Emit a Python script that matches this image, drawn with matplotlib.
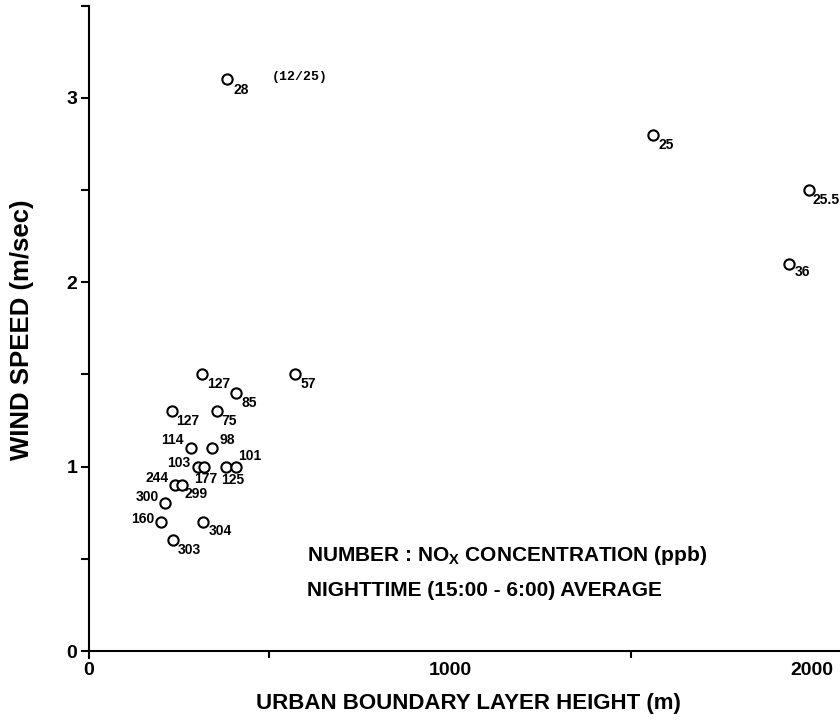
import matplotlib
matplotlib.use("Agg")
import matplotlib.pyplot as plt
from matplotlib.ticker import MultipleLocator, FixedLocator

# ---- data ----
heights = [382, 1561, 1990, 1937, 571, 313, 408, 232, 354, 282, 341,
           303, 319, 380, 408, 239, 258, 210, 200, 317, 234]
speeds = [3.1, 2.8, 2.5, 2.1, 1.5, 1.5, 1.4, 1.3, 1.3, 1.1, 1.1,
          1.0, 1.0, 1.0, 1.0, 0.9, 0.9, 0.8, 0.7, 0.7, 0.6]
nox = ["28", "25", "25.5", "36", "57", "127", "85", "127", "75", "114", "98",
       "103", "177", "125", "101", "244", "299", "300", "160", "304", "303"]
xticks = [0, 1000, 2000]
yticks = [0, 1, 2, 3]

# ---- label placement (pixels: dx, dy(up), ha) ----
place = [(6.6, -10.6, "left"), (5, -10, "left"), (4.4, -9.7, "left"),
         (5.7, -8.4, "left"), (5, -9.3, "left"), (5, -10, "left"),
         (5.7, -10.6, "left"), (3.4, -9.3, "left"), (5, -10, "left"),
         (-7.4, 7.7, "right"), (7.3, 8.4, "left"), (-7.6, 4, "right"),
         (2, -12.6, "center"), (7, -13, "center"), (2.3, 10.7, "left"),
         (-6.7, 6.7, "right"), (2.6, -9.3, "left"), (-6, 6, "right"),
         (-7, 2.7, "right"), (5, -9, "left"), (5, -10, "left")]

plt.rcParams['font.family'] = ['Liberation Sans', 'DejaVu Sans']
plt.rcParams['mathtext.fontset'] = 'custom'
plt.rcParams['mathtext.rm'] = 'Liberation Sans:bold'

fig = plt.figure(figsize=(8.4, 7.24), dpi=100)
ax = fig.add_axes([0.1054, 0.1008, 0.8946, 0.8915])

ax.plot(heights, speeds, linestyle='none', marker='o', markersize=7.4,
        markerfacecolor='white', markeredgecolor='black', markeredgewidth=1.5,
        clip_on=False, zorder=3)

px = 1 / 1.3889
for x, y, t, (dx, dy, ha) in zip(heights, speeds, nox, place):
    ax.annotate(t, (x, y), xytext=(dx * px, dy * px), textcoords='offset points',
                ha=ha, va='center', fontsize=10, fontweight='bold',
                annotation_clip=False)

ax.annotate("(12/25)", (heights[0], speeds[0]), xytext=(45 * px, 2 * px),
            textcoords='offset points', ha='left', va='center', fontsize=9.5,
            fontweight='bold', family='Liberation Mono')

ax.text(604, 0.52, r"NUMBER : NO$_\mathrm{X}$ CONCENTRATION (ppb)",
        fontsize=15, fontweight='bold', ha='left', va='center')
ax.text(604, 0.33, "NIGHTTIME (15:00 - 6:00) AVERAGE",
        fontsize=15, fontweight='bold', ha='left', va='center')

ax.set_xlim(0, 2077)
ax.set_ylim(0, 3.5)

for s in ['top', 'right']:
    ax.spines[s].set_visible(False)
for s in ['left', 'bottom']:
    ax.spines[s].set_linewidth(1.5)

ax.xaxis.set_major_locator(FixedLocator(xticks))
ax.xaxis.set_minor_locator(FixedLocator([500, 1500]))
ax.yaxis.set_major_locator(FixedLocator(yticks))
ax.yaxis.set_minor_locator(MultipleLocator(0.5))
ax.set_xticklabels([str(v) for v in xticks])
ax.set_yticklabels([str(v) for v in yticks])

ax.tick_params(axis='x', which='major', length=0, pad=8)
ax.tick_params(axis='x', which='minor', length=5, width=1.5, direction='out')
ax.tick_params(axis='y', which='both', length=6, width=1.5, direction='out', pad=2)
for lab in ax.get_xticklabels() + ax.get_yticklabels():
    lab.set_fontsize(14)
    lab.set_fontweight('bold')

# tick extension below origin
ax.plot([0, 0], [0, -0.04], color='black', lw=1.5, clip_on=False)

ax.set_xlabel("URBAN BOUNDARY LAYER HEIGHT (m)", fontsize=16, fontweight='bold')
ax.xaxis.set_label_coords(0.505, -0.081)
ax.set_ylabel("WIND SPEED (m/sec)", fontsize=18.5, fontweight='bold')
ax.yaxis.set_label_coords(-0.0885, 0.497)
ax.xaxis.label.set_va('center')
ax.yaxis.label.set_va('center')

fig.savefig("out.png", dpi=100)
